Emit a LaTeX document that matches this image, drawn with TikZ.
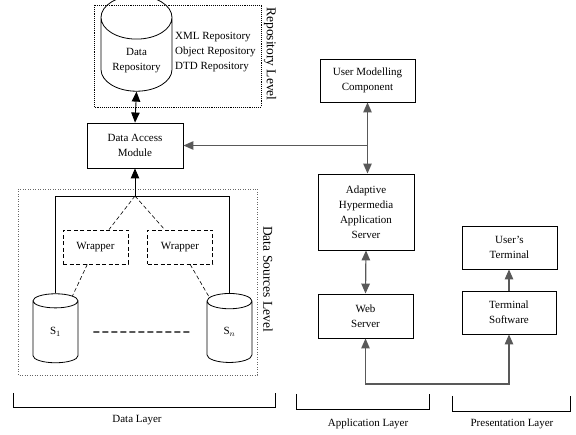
\documentclass[tikz,border=0pt]{standalone}
\usepackage{fontspec}
\setmainfont{Liberation Serif}
\usetikzlibrary{shapes.geometric,arrows.meta}

\begin{document}
\begin{tikzpicture}[x=1pt,y=-1pt,
    font=\fontsize{11}{15}\selectfont,
    box/.style={draw,line width=0.9pt,align=center,inner sep=0pt},
    can/.style={draw,line width=0.8pt,cylinder,shape border rotate=90,inner sep=0pt,align=center},
    wrap/.style={draw,line width=0.9pt,dash pattern=on 4pt off 2.5pt,inner sep=0pt,
      minimum width=65pt,minimum height=34pt},
    level/.style={font=\fontsize{13.5}{15}\selectfont,rotate=-90},
    tip/.style={-{Triangle[length=10pt,width=8.5pt]}},
    tips/.style={{Triangle[length=10pt,width=8.5pt]}-{Triangle[length=10pt,width=8.5pt]}},
    link/.style={line width=1.2pt,draw=black!65}]
  \useasboundingbox (0,0) rectangle (576,435);
  \draw[line width=0.9pt,densely dotted] (94,5) rectangle (261,107);
  \draw[line width=0.5pt,dotted,draw=black!60] (18,189) rectangle (257,375);
  \draw
    (136.5,54.5) node[can,aspect=0.9,minimum width=71pt,minimum height=74pt]
      (repo){\raisebox{-6pt}[\height][\depth]{\begin{tabular}{@{}c@{}}Data\\Repository\end{tabular}}}
    (175,52) node[anchor=west,align=left,inner sep=0pt] (kinds){XML Repository\\Object Repository\\DTD Repository}
    (270,54) node[level] (replevel){Repository Level}
    (135,145.5) node[box,minimum width=96pt,minimum height=45pt] (dam){Data Access\\Module}
    (95.5,247) node[wrap] (wrap1){Wrapper}
    (180,247) node[wrap] (wrap2){Wrapper}
    (55.5,332) node[can,aspect=1.3,minimum width=45pt,minimum height=69pt] (s1){S$_1$}
    (229.5,332) node[can,aspect=1.3,minimum width=45pt,minimum height=69pt] (sn){S$_n$}
    (268,279) node[level] (srclevel){Data Sources Level}
    (367.5,80.5) node[box,minimum width=95pt,minimum height=43pt] (umc){User Modelling\\Component}
    (366,212) node[box,minimum width=96pt,minimum height=76pt] (ahas){Adaptive\\Hypermedia\\Application\\Server}
    (365.5,316) node[box,minimum width=95pt,minimum height=44pt] (web){Web\\Server}
    (509.5,247.5) node[box,minimum width=95pt,minimum height=43pt] (uterm){User's\\Terminal}
    (509,312.5) node[box,minimum width=94pt,minimum height=43pt] (tsoft){Terminal\\Software}
    (137,420) node (datalayer){Data Layer}
    (368,424) node (applayer){Application Layer}
    (512,424) node (preslayer){Presentation Layer};
  \coordinate (join) at (135,196);
  \coordinate (bus) at (440,384);
  \begin{scope}[line width=0.9pt]
    \draw[tips] (repo.south) -- (dam.north);
    \draw[tip] (join) -- (dam.south);
    \draw (s1.north) -- (s1.north |- join) -- (sn.north |- join) -- (sn.north);
    \draw[dash pattern=on 4pt off 2.5pt,line width=0.6pt] (join) -- (wrap1);
    \draw[dash pattern=on 4pt off 2.5pt,line width=0.6pt] (join) -- (wrap2);
    \draw[dash pattern=on 4pt off 2.5pt,line width=0.6pt] (wrap1) -- (s1);
    \draw[dash pattern=on 4pt off 2.5pt,line width=0.6pt] (wrap2) -- (sn);
    \draw[dash pattern=on 6pt off 3pt,line width=1.1pt,shorten <=15pt,shorten >=15pt] (s1.east) -- (sn.west);
    \draw[link,tip] (umc.south |- dam.east) -- (dam.east);
    \draw[link,tips] (umc.south) -- (umc.south |- ahas.north);
    \draw[link,tips] (ahas.south) -- (web.north);
    \draw[link,tip] (tsoft.north) -- (tsoft.north |- uterm.south);
    \draw[link,tips] (web.south) |- (bus) -| (tsoft.south);
    \draw (13,393) |- (275,407) -- (275,393);
    \draw (296,394) |- (429,409) -- (429,394);
    \draw (452,396) |- (570,411) -- (570,396);
  \end{scope}
\end{tikzpicture}
\end{document}
